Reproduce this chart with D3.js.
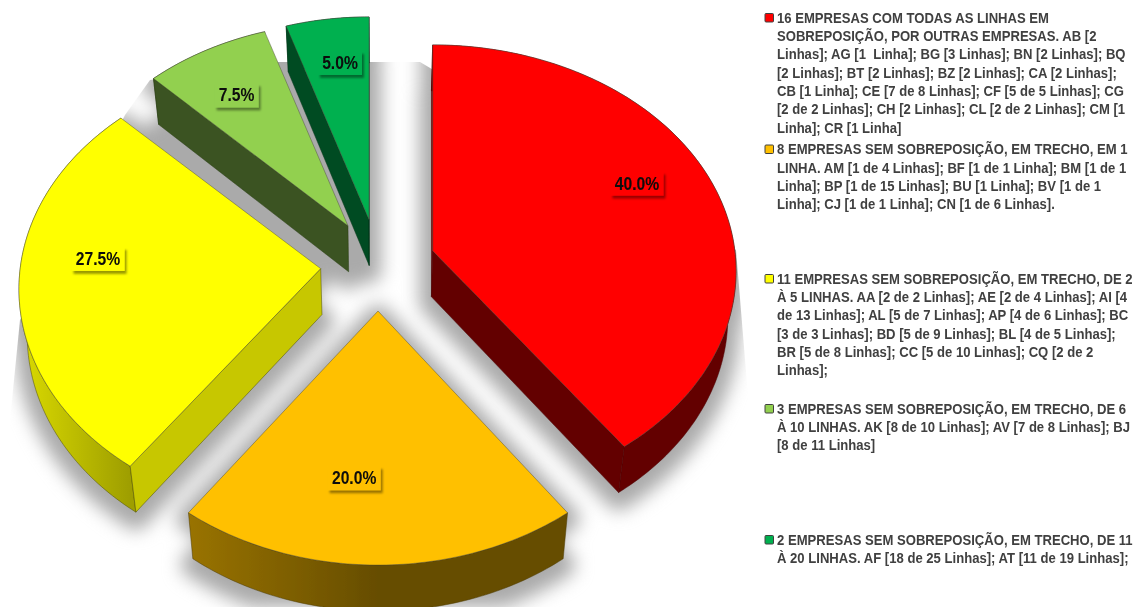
<!DOCTYPE html>
<html><head><meta charset="utf-8">
<script src="https://cdn.jsdelivr.net/npm/d3@7/dist/d3.min.js"></script>
<style>html,body{margin:0;padding:0;background:#fff;overflow:hidden}
#clip{position:absolute;left:0;top:0;width:1134px;height:607px;clip-path:polygon(150px 80px,265px 62px,420px 62px,736px 250px,750px 420px,750px 607px,6px 607px,8px 440px,20px 320px,125px 115px)}
#shadow{display:block;filter:blur(9px)}
#c{position:absolute;left:0;top:0;display:block}</style>
</head><body>
<div id="clip"><svg id="shadow" width="1134" height="607"></svg></div>
<svg id="c" width="1134" height="607"></svg>
<script>
// ---- data ----
const categories = ["16 EMPRESAS","8 EMPRESAS","11 EMPRESAS","3 EMPRESAS","2 EMPRESAS"];
const shares = [40, 20, 27.5, 7.5, 5];
const colours = ["#ff0000","#ffc000","#ffff00","#92d050","#00b050"];
const legendLines = [
 ["16 EMPRESAS COM TODAS AS LINHAS EM","SOBREPOSIÇÃO, POR OUTRAS EMPRESAS. AB [2","Linhas]; AG [1  Linha]; BG [3 Linhas]; BN [2 Linhas]; BQ","[2 Linhas]; BT [2 Linhas]; BZ [2 Linhas]; CA [2 Linhas];","CB [1 Linha]; CE [7 de 8 Linhas]; CF [5 de 5 Linhas]; CG","[2 de 2 Linhas]; CH [2 Linhas]; CL [2 de 2 Linhas]; CM [1","Linha]; CR [1 Linha]"],
 ["8 EMPRESAS SEM SOBREPOSIÇÃO, EM TRECHO, EM 1","LINHA. AM [1 de 4 Linhas]; BF [1 de 1 Linha]; BM [1 de 1","Linha]; BP [1 de 15 Linhas]; BU [1 Linha]; BV [1 de 1","Linha]; CJ [1 de 1 Linha]; CN [1 de 6 Linhas]."],
 ["11 EMPRESAS SEM SOBREPOSIÇÃO, EM TRECHO, DE 2","À 5 LINHAS. AA [2 de 2 Linhas]; AE [2 de 4 Linhas]; AI [4","de 13 Linhas]; AL [5 de 7 Linhas]; AP [4 de 6 Linhas]; BC","[3 de 3 Linhas]; BD [5 de 9 Linhas]; BL [4 de 5 Linhas];","BR [5 de 8 Linhas]; CC [5 de 10 Linhas]; CQ [2 de 2","Linhas];"],
 ["3 EMPRESAS SEM SOBREPOSIÇÃO, EM TRECHO, DE 6","À 10 LINHAS. AK [8 de 10 Linhas]; AV [7 de 8 Linhas]; BJ","[8 de 11 Linhas]"],
 ["2 EMPRESAS SEM SOBREPOSIÇÃO, EM TRECHO, DE 11","À 20 LINHAS. AF [18 de 25 Linhas]; AT [11 de 19 Linhas];"]
];

// ---- layout ----
const W=1134,H=607, cx=378, cy=265, explodeX=57.5, explodeY=46;
const A=302, B=226, K=0.09, depth=46, converge=0.977;
const radiusX=[1.012,.99,.995,1,1];
const labelR=[.76,.683,.745,.74,.765], labelTurn=[-5.9,6.3,7.8,-1.4,1];
const wallShade=[.39,.4,.78,.4,.43], arcShade=[[.39,.39],[.6,.4],[.86,.62],[.4,.4],[.43,.43]];
const legendY=[18,149.5,279,409,540], legendStep=18.3, legendSX=0.95;

const svg=d3.select("#c"), defs=svg.append("defs");
const pie=d3.pie().sort(null).value(d=>d.v)(shares.map((v,i)=>({v,i})));

function proj(apex,th,r,i){
  const u=r*Math.sin(th), v=r*Math.cos(th), w=1+K*v;
  const off=apex[1]-cy;
  const sx=radiusX[i]*(1+.0008*Math.min(0,off)), sy=1+.0005*off;
  return [apex[0]+sx*A*u/w, apex[1]-sy*B*v/w];
}
const drop=p=>[cx+(p[0]-cx)*converge, p[1]+depth];
const line=d3.line();
const slices=pie.map(s=>{
  const m=(s.startAngle+s.endAngle)/2, i=s.data.i;
  const apex=[cx+explodeX*Math.sin(m), cy-explodeY*Math.cos(m)];
  const n=Math.max(8,Math.round((s.endAngle-s.startAngle)*60));
  const arc=d3.range(n+1).map(k=>proj(apex,s.startAngle+(s.endAngle-s.startAngle)*k/n,1,i));
  return {i,v:s.data.v,m,apex,arc};
});

// filters
const f2=defs.append("filter").attr("id","soft");
f2.append("feGaussianBlur").attr("stdDeviation",.35);
const f3=defs.append("filter").attr("id","lab").attr("x","-20%").attr("y","-20%").attr("width","150%").attr("height","160%");
f3.append("feDropShadow").attr("dx",2).attr("dy",3).attr("stdDeviation",1.3).attr("flood-color","#000").attr("flood-opacity",.4);

// shadow
const gs=d3.select("#shadow").append("g").attr("fill","#aaaaaa").attr("stroke","#aaaaaa")
  .attr("stroke-width",24).attr("stroke-linejoin","round").attr("transform","translate(0,6)");
slices.forEach(s=>{
  const top=[s.apex,...s.arc];
  gs.append("path").attr("d",line(top)+"Z");
  gs.append("path").attr("d",line(top.map(drop))+"Z");
});

// slices, back to front
const shade=(c,f)=>{const r=d3.rgb(c);return d3.rgb(r.r*f,r.g*f,r.b*f).formatHex()};
const g=svg.append("g").attr("filter","url(#soft)");
[4,3,2,0,1].forEach(idx=>{
  const s=slices[idx], c=colours[idx], a0=s.arc[0], a1=s.arc[s.arc.length-1];
  const wall=shade(c,wallShade[idx]);
  const top=[s.apex,...s.arc];
  const grp=g.append("g");
  const style=p=>p.attr("stroke",shade(c,.3)).attr("stroke-width",.5).attr("stroke-linejoin","round");
  const xs=d3.extent(s.arc,p=>p[0]);
  const gid="wall"+idx;
  const lg=defs.append("linearGradient").attr("id",gid).attr("gradientUnits","userSpaceOnUse")
    .attr("x1",xs[0]).attr("x2",idx===1?xs[0]+(xs[1]-xs[0])*.5:xs[1]).attr("y1",0).attr("y2",0);
  lg.append("stop").attr("offset",0).attr("stop-color",shade(c,arcShade[idx][0]));
  lg.append("stop").attr("offset",1).attr("stop-color",shade(c,arcShade[idx][1]));
  style(grp.append("path").attr("d",line([...s.arc,...s.arc.map(drop).reverse()])+"Z").attr("fill",`url(#${gid})`));
  [a0,a1].forEach(e=>{
    const d0=drop(s.apex), d1=drop(e), mid=[(d0[0]+d1[0])/2,(d0[1]+d1[1])/2];
    if(!d3.polygonContains(top,mid))
      style(grp.append("path").attr("d",line([s.apex,e,d1,d0])+"Z").attr("fill",wall));
  });
  grp.append("path").attr("d",line(top)+"Z").attr("fill",c)
    .attr("stroke","#4a4a3a").attr("stroke-opacity",.75).attr("stroke-width",.6).attr("stroke-linejoin","round");
});

// value labels
const fmt=d3.format(".1f");
slices.forEach(s=>{
  const c=proj(s.apex,s.m+labelTurn[s.i]*Math.PI/180,labelR[s.i],s.i);
  const txt=fmt(s.v)+"%";
  const w=txt.length===5?53:44, h=24;
  const lab=svg.append("g").attr("transform",`translate(${c[0]},${c[1]})`);
  lab.append("rect").attr("x",-w/2).attr("y",-h/2).attr("width",w).attr("height",h)
    .attr("fill",colours[s.i]).attr("filter","url(#lab)");
  lab.append("text").attr("text-anchor","middle").attr("y",6).attr("transform","scale(.87,1)")
    .attr("font-family","'Liberation Sans',Arial,sans-serif").attr("font-weight",700).attr("font-size",18)
    .attr("fill","#0a0a0a").attr("filter","url(#soft)").text(txt);
});

// legend
const lgG=svg.append("g").attr("filter","url(#soft)");
legendLines.forEach((lines,i)=>{
  const y0=legendY[i];
  lgG.append("rect").attr("x",765).attr("y",y0-4.5).attr("width",8.5).attr("height",8.5).attr("rx",1)
    .attr("fill",colours[i]).attr("stroke","#404040").attr("stroke-width",1);
  lines.forEach((t,k)=>{
    lgG.append("text").attr("transform",`translate(777,${y0+4.8+k*legendStep}) scale(${legendSX},1)`)
      .attr("font-family","'Liberation Sans',Arial,sans-serif").attr("font-weight",700).attr("font-size",13.8)
      .attr("fill","#404040").style("white-space","pre").text(t);
  });
});
</script>
</body></html>
